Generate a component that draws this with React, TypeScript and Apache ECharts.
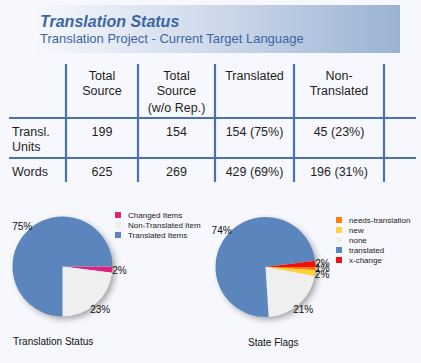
import React, { useEffect, useRef } from "react";
import * as echarts from "echarts";

const headerTitle = "Translation Status";
const headerSubtitle = "Translation Project - Current Target Language";

const columnHeaders: string[][] = [
  ["Total", "Source"],
  ["Total", "Source", "(w/o Rep.)"],
  ["Translated"],
  ["Non-", "Translated"],
];
const rowLabels: string[][] = [["Transl.", "Units"], ["Words"]];
const rowValues: string[][] = [
  ["199", "154", "154 (75%)", "45 (23%)"],
  ["625", "269", "429 (69%)", "196 (31%)"],
];

const statusNames = ["Changed Items", "Non-Translated Item", "Translated Items"];
const statusValues = [2, 23, 75];
const statusColors = ["#e0237f", "#efefef", "#5a86bd"];

const flagNames = ["needs-translation", "new", "none", "translated", "x-change"];
const flagValues = [1, 2, 21, 74, 2];
const flagColors = ["#ff7f0a", "#ffd23c", "#efefef", "#5a86bd", "#f40f0f"];

const pieTitles = ["Translation Status", "State Flags"];

const FONT = "Arial, 'Liberation Sans', sans-serif";

export default function App() {
  const ref = useRef<HTMLDivElement>(null);
  useEffect(() => {
    document.body.style.margin = "0";
    document.body.style.background = "#f7f8fd";
    const chart = echarts.init(ref.current!, undefined, { renderer: "svg" });

    const colX = [66, 138, 215, 294, 384];
    const colCenters = [102, 176.5, 254.5, 339];
    const headerLineY = [75.5, 91, 107.5];
    const rowLineY = [[131.5, 147], [171.5]];
    const lineColor = "#4a71ab";
    const textColor = "#1e1e1e";
    const els: any[] = [];

    els.push({
      type: "rect",
      shape: { x: 37, y: 5, width: 363, height: 48 },
      style: {
        fill: new echarts.graphic.LinearGradient(0, 0, 1, 0, [
          { offset: 0, color: "#f5f7fc" },
          { offset: 0.45, color: "#d2dcec" },
          { offset: 1, color: "#9bb2d4" },
        ]),
      },
      silent: true,
    });
    els.push({
      type: "text",
      x: 40,
      y: 21,
      style: {
        text: headerTitle,
        font: "italic bold 16px " + FONT,
        fill: "#3b66a3",
        verticalAlign: "middle",
      },
    });
    els.push({
      type: "text",
      x: 40,
      y: 38,
      style: {
        text: headerSubtitle,
        font: "13px " + FONT,
        fill: "#3b66a3",
        verticalAlign: "middle",
      },
    });

    colX.forEach((x) => {
      els.push({
        type: "line",
        shape: { x1: x, y1: 64, x2: x, y2: 182 },
        style: { stroke: lineColor, lineWidth: 2.2 },
      });
    });
    [118, 158].forEach((y) => {
      els.push({
        type: "line",
        shape: { x1: 9, y1: y, x2: 416, y2: y },
        style: { stroke: lineColor, lineWidth: 2.2 },
      });
    });

    columnHeaders.forEach((lines, ci) => {
      lines.forEach((t, li) => {
        els.push({
          type: "text",
          x: colCenters[ci],
          y: headerLineY[li],
          style: {
            text: t,
            font: "12.5px " + FONT,
            fill: textColor,
            align: "center",
            verticalAlign: "middle",
          },
        });
      });
    });
    rowLabels.forEach((lines, ri) => {
      lines.forEach((t, li) => {
        els.push({
          type: "text",
          x: 12,
          y: rowLineY[ri][li],
          style: {
            text: t,
            font: "12.5px " + FONT,
            fill: textColor,
            verticalAlign: "middle",
          },
        });
      });
      rowValues[ri].forEach((v, ci) => {
        els.push({
          type: "text",
          x: colCenters[ci],
          y: rowLineY[ri][0],
          style: {
            text: v,
            font: "12.5px " + FONT,
            fill: textColor,
            align: "center",
            verticalAlign: "middle",
          },
        });
      });
    });

    const pieCenters = [
      [62.5, 266.5],
      [265.5, 267],
    ];
    const pieRadius = 50;
    const labelRadius = 57;
    pieCenters.forEach((c) => {
      els.push({
        type: "circle",
        z: -1,
        shape: { cx: c[0], cy: c[1], r: pieRadius - 0.5 },
        style: {
          fill: "#efefef",
          shadowBlur: 6,
          shadowOffsetX: 3,
          shadowOffsetY: 3,
          shadowColor: "rgba(0,0,0,0.35)",
        },
        silent: true,
      });
    });

    const makeLabelLayout = (values: number[], center: number[]) => {
      const total = values.reduce((a, b) => a + b, 0);
      return (params: any) => {
        const i = params.dataIndex;
        let cum = 0;
        for (let k = 0; k < i; k++) cum += values[k];
        const mid = ((cum + values[i] / 2) / total) * Math.PI * 2;
        return {
          x: center[0] + labelRadius * Math.cos(mid),
          y: center[1] + labelRadius * Math.sin(mid),
          align: "center",
          verticalAlign: "middle",
        };
      };
    };

    const pieLabel = {
      show: true,
      position: "outside",
      formatter: (p: any) => p.value + "%",
      fontSize: 10,
      fontFamily: FONT,
      color: "#111",
      overflow: "none",
      edgeDistance: 0,
    };

    const titleStyle = { fontSize: 10, fontWeight: "normal", color: "#111", fontFamily: FONT };
    const legendText = { fontSize: 8, color: "#222", fontFamily: FONT, lineHeight: 10, padding: [0, 0, 0, 2] };

    chart.setOption({
      animation: false,
      backgroundColor: "#f7f8fd",
      title: [
        { text: pieTitles[0], left: 13, top: 336, padding: 0, textStyle: titleStyle },
        { text: pieTitles[1], left: 248, top: 337, padding: 0, textStyle: titleStyle },
      ],
      legend: [
        {
          data: statusNames,
          orient: "vertical",
          left: 115,
          top: 210,
          itemWidth: 6,
          itemHeight: 6,
          itemGap: 0,
          icon: "rect",
          padding: 0,
          textStyle: legendText,
        },
        {
          data: flagNames,
          orient: "vertical",
          left: 336,
          top: 215,
          itemWidth: 6,
          itemHeight: 6,
          itemGap: 0,
          icon: "rect",
          padding: 0,
          textStyle: legendText,
        },
      ],
      graphic: { elements: els },
      series: [
        {
          type: "pie",
          center: pieCenters[0],
          radius: pieRadius,
          startAngle: 0,
          clockwise: true,
          avoidLabelOverlap: false,
          label: pieLabel,
          labelLine: { show: false, length: 3, length2: 0 },
          labelLayout: makeLabelLayout(statusValues, pieCenters[0]),
          itemStyle: { borderWidth: 0 },
          emphasis: { disabled: true },
          data: statusNames.map((n, i) => ({
            name: n,
            value: statusValues[i],
            itemStyle: { color: statusColors[i] },
          })),
        },
        {
          type: "pie",
          center: pieCenters[1],
          radius: pieRadius,
          startAngle: 0,
          clockwise: true,
          avoidLabelOverlap: false,
          label: pieLabel,
          labelLine: { show: false, length: 3, length2: 0 },
          labelLayout: makeLabelLayout(flagValues, pieCenters[1]),
          itemStyle: { borderWidth: 0 },
          emphasis: { disabled: true },
          data: flagNames.map((n, i) => ({
            name: n,
            value: flagValues[i],
            itemStyle: { color: flagColors[i] },
          })),
        },
      ],
    });
    return () => chart.dispose();
  }, []);
  return (
    <div
      ref={ref}
      style={{ position: "fixed", left: 0, top: 0, width: 421, height: 363 }}
    />
  );
}
